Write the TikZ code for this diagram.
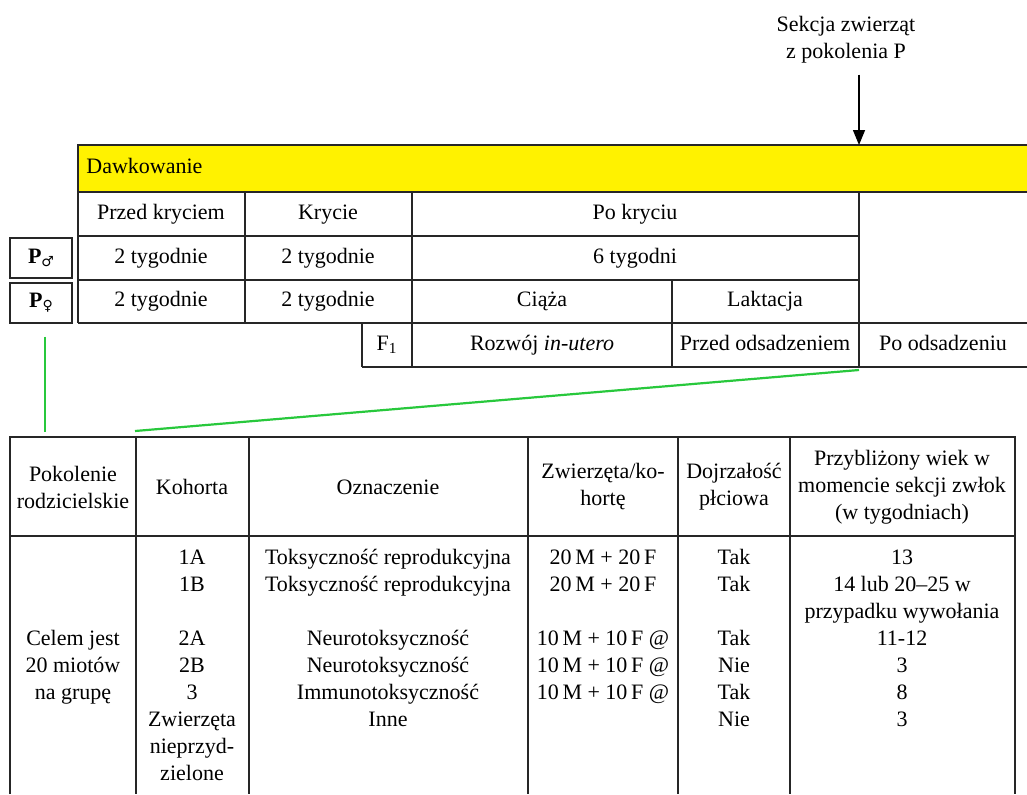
\documentclass[tikz,border=0pt]{standalone}
\usepackage{fontspec}
\setmainfont{Liberation Serif}
\newfontfamily\symbfont{DejaVu Sans}
\usetikzlibrary{arrows.meta}
\definecolor{dosegreen}{RGB}{40,200,60}

\tikzset{
  tline/.style={line width=0.6pt, draw=black!85},
  cell/.style={inner sep=0pt, text height=8pt, text depth=2.5pt},
  col/.style={anchor=north, align=center, inner sep=0pt},
  pbox/.style={draw=black!85, line width=0.6pt, minimum width=31pt, minimum height=20pt, inner sep=0pt},
  gline/.style={draw=dosegreen, line width=1.1pt},
  sarrow/.style={-{Triangle[width=6pt,length=7.5pt]}, line width=0.7pt},
}

\begin{document}
\begin{tikzpicture}[x=0.5pt, y=-0.5pt, font=\fontsize{11}{13.5}\selectfont]
        \useasboundingbox (0,0) rectangle (1027,794);
        \fill[yellow] (78,145) rectangle (1027,192);
        \draw[tline] (1027,145) -- (78,145) -- (78,323);
        \draw[tline] (78,192) -- (1027,192);
        \draw[tline] (78,236) -- (859,236);
        \draw[tline] (78,280) -- (859,280);
        \draw[tline] (78,323) -- (1027,323);
        \draw[tline] (362,367) -- (1027,367);
        \draw[tline] (245,192) -- (245,323);
        \draw[tline] (412,192) -- (412,367);
        \draw[tline] (362,323) -- (362,367);
        \draw[tline] (672,280) -- (672,367);
        \draw[tline] (859,192) -- (859,367);

        \node[cell, anchor=west] (dose) at (86,168) {Dawkowanie};
        \node[cell] (premat) at (161,214) {Przed kryciem};
        \node[cell] (mating) at (328,214) {Krycie};
        \node[cell] (postmat) at (635,214) {Po kryciu};
        \node[cell] (male1) at (161,258) {2 tygodnie};
        \node[cell] (male2) at (328,258) {2 tygodnie};
        \node[cell] (male3) at (635,258) {6 tygodni};
        \node[cell] (fem1) at (161,301) {2 tygodnie};
        \node[cell] (fem2) at (328,301) {2 tygodnie};
        \node[cell] (preg) at (542,301) {Ciąża};
        \node[cell] (lact) at (765,301) {Laktacja};
        \node[cell] (gen) at (387,345) {F\textsubscript{1}};
        \node[cell] (utero) at (542,345) {Rozwój \textit{in-utero}};
        \node[cell] (prewean) at (765,345) {Przed odsadzeniem};
        \node[cell] (postwean) at (943,345) {Po odsadzeniu};

        \node[pbox] (pm) at (41,258) {\textbf{P}\raisebox{-1.5pt}{\symbfont\scriptsize ♂}};
        \node[pbox] (pf) at (41,303) {\textbf{P}\raisebox{-1.5pt}{\symbfont\scriptsize ♀}};

        \node[align=center] (sek) at (846,40) {Sekcja zwierząt\\z pokolenia P};
        \coordinate (cut) at (859,145);
        \draw[sarrow] ([yshift=-2pt]sek.south -| cut) -- (cut);

        \coordinate (gbot) at (45,432);
        \coordinate (wean) at (859,370);
        \coordinate (cohtop) at (135,431);
        \draw[gline] ([shift={(4,13)}]pf.south) -- (gbot);
        \draw[gline] (wean) -- (cohtop);

        \draw[tline] (10,794) -- (10,437) -- (1015,437) -- (1015,794);
        \draw[tline] (10,536) -- (1015,536);
        \draw[tline] (136,437) -- (136,794);
        \draw[tline] (249,437) -- (249,794);
        \draw[tline] (528,437) -- (528,794);
        \draw[tline] (678,437) -- (678,794);
        \draw[tline] (790,437) -- (790,794);

        \node[align=center] (hgen) at (73,487) {Pokolenie\\rodzicielskie};
        \node[align=center] (hcoh) at (192,487) {Kohorta};
        \node[align=center] (hdes) at (388,487) {Oznaczenie};
        \node[align=center] (hnum) at (603,487) {Zwierzęta/ko-\\hortę};
        \node[align=center] (hsex) at (734,487) {Dojrzałość\\płciowa};
        \node[align=center] (hage) at (902,487) {Przybliżony wiek w\\momencie sekcji zwłok\\(w tygodniach)};

        \node[col] (aim) at (73,626) {\strut Celem jest\\20 miotów\\na grupę};
        \node[col] (coh) at (192,545) {\strut 1A\\1B\\[13.5pt]2A\\2B\\3\\Zwierzęta\\nieprzyd-\\zielone};
        \node[col] (desig) at (388,545) {\strut Toksyczność reprodukcyjna\\Toksyczność reprodukcyjna\\[13.5pt]Neurotoksyczność\\Neurotoksyczność\\Immunotoksyczność\\Inne};
        \node[col] (num) at (603,545) {\strut 20\,M + 20\,F\\20\,M + 20\,F\\[13.5pt]10\,M + 10\,F @\\10\,M + 10\,F @\\10\,M + 10\,F @};
        \node[col] (sexm) at (734,545) {\strut Tak\\Tak\\[13.5pt]Tak\\Nie\\Tak\\Nie};
        \node[col] (age) at (902,545) {\strut 13\\14 lub 20–25 w\\przypadku wywołania\\11-12\\3\\8\\3};
    \end{tikzpicture}
\end{document}
